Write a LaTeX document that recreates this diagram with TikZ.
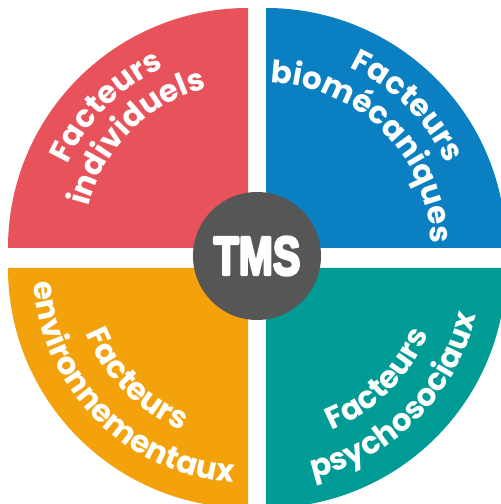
\documentclass[tikz,border=0pt]{standalone}
\usepackage{fontspec}
\setmainfont{Liberation Sans}
\newfontfamily\popfont{Poppins}
\usetikzlibrary{decorations.text}
\definecolor{tmsRed}{HTML}{E8525A}
\definecolor{tmsBlue}{HTML}{0A80C3}
\definecolor{tmsOrange}{HTML}{F4A20B}
\definecolor{tmsTeal}{HTML}{009B94}
\definecolor{tmsGray}{HTML}{565656}

% heavy outline for the centre label
\newcommand\heavytext[1]{\special{pdf:code q 2 Tr 3.2 w 1 1 1 RG 1 j}#1\special{pdf:code Q}}

\tikzset{
  arctext/.style={decorate,decoration={text along path,text align={center},
    text={|\popfont\bfseries\fontsize{31}{33}\selectfont\color{white}|#1}}},
  hub/.style={circle,fill=tmsGray,minimum size=128pt,inner sep=0pt,text=white,
    font=\bfseries\fontsize{54}{54}\selectfont}
}

\begin{document}
\begin{tikzpicture}[x=1pt,y=1pt]
\clip (0,0) rectangle (501,504);

\def\rOut{240}

% draw the four quarters
\foreach \cx/\cy/\a/\col in {248/256/90/tmsRed,266/256/0/tmsBlue,248/236/180/tmsOrange,266/236/270/tmsTeal}
\fill[\col] (\cx,\cy) -- ++(\a:\rOut) arc (\a:{\a+90}:\rOut) -- cycle;

% curved labels, upper quarters read clockwise
\path[arctext={Facteurs}] (248,256) ++(180:199) arc (180:90:199);
\path[arctext={individuels}] (248,256) ++(180:165) arc (180:90:165);
\path[arctext={Facteurs}] (266,256) ++(90:199) arc (90:0:199);
\path[arctext={biomécaniques}] (266,256) ++(90:165) arc (90:0:165);

% lower quarters read counter clockwise
\path[arctext={Facteurs}] (248,236) ++(180:175) arc (180:270:175);
\path[arctext={environnementaux}] (248,236) ++(180:215) arc (180:270:215);
\path[arctext={Facteurs}] (266,236) ++(270:175) arc (270:360:175);
\path[arctext={psychosociaux}] (266,236) ++(270:215) arc (270:360:215);

% centre
\node[hub] (tms) at (257,248) {\scalebox{0.76}[1]{\heavytext{TMS}}};

\end{tikzpicture}
\end{document}
